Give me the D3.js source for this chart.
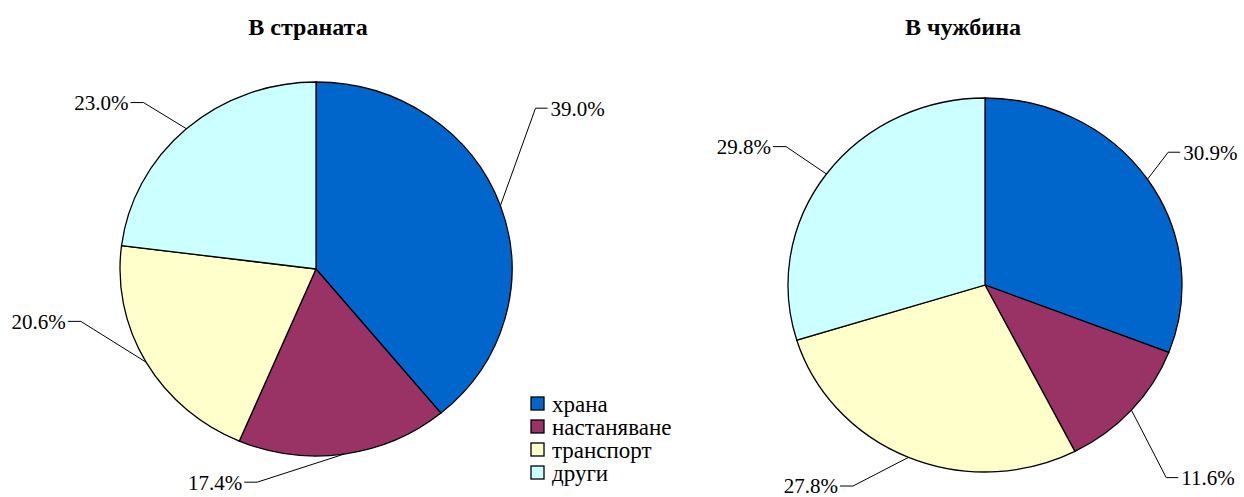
<!DOCTYPE html>
<html><head><meta charset="utf-8">
<script src="https://cdn.jsdelivr.net/npm/d3@7"></script>
<style>body{margin:0;background:#fff}svg{display:block}</style>
</head><body><div id="chart"></div>
<script>
const categories = ["храна", "настаняване", "транспорт", "други"];
const colors = ["#0066CC", "#993366", "#FFFFCC", "#CCFFFF"];
const titles = ["В страната", "В чужбина"];
const valuesDomestic = [39.0, 17.4, 20.6, 23.0];
const valuesAbroad = [30.9, 11.6, 27.8, 29.8];
// label elbow positions, in units of the pie radius, relative to the pie centre
const labelElbowDomestic = [[1.12, -0.86], [-0.30, 1.14], [-1.20, 0.28], [-0.88, -0.89]];
const labelElbowAbroad = [[0.93, -0.71], [0.92, 1.03], [-0.67, 1.075], [-1.01, -0.74]];

const FONT = "'Liberation Serif', 'Times New Roman', 'DejaVu Serif', serif";
const W = 1244, H = 497;
const svg = d3.select("#chart").append("svg").attr("width", W).attr("height", H)
  .style("font-family", FONT);

const pies = [
  {title: titles[0], values: valuesDomestic, elbows: labelElbowDomestic, cx: 316, cy: 269, rx: 196, ry: 187, tx: 308},
  {title: titles[1], values: valuesAbroad, elbows: labelElbowAbroad, cx: 985, cy: 285, rx: 197, ry: 187, tx: 963}
];

const pieGen = d3.pie().sort(null).value(d => d);
const arcGen = d3.arc().innerRadius(0);

pies.forEach(p => {
  svg.append("text").attr("x", p.tx).attr("y", 35).attr("text-anchor", "middle")
    .attr("font-family", FONT).attr("font-size", 24).attr("font-weight", "bold").text(p.title);
  const arcs = pieGen(p.values);
  const g = svg.append("g").attr("transform", `translate(${p.cx},${p.cy}) scale(${p.rx / p.ry},1)`);
  g.selectAll("path").data(arcs).enter().append("path")
    .attr("d", d => arcGen.outerRadius(p.ry)(d))
    .attr("fill", (d, i) => colors[i])
    .attr("stroke", "#000").attr("stroke-width", 1.3)
    .attr("vector-effect", "non-scaling-stroke");
  arcs.forEach((d, i) => {
    const a = (d.startAngle + d.endAngle) / 2;
    const ex = p.cx + p.rx * Math.sin(a), ey = p.cy - p.ry * Math.cos(a);
    const bx = p.cx + p.rx * p.elbows[i][0], by = p.cy + p.ry * p.elbows[i][1];
    const right = bx > ex;
    const sx = right ? bx + 12 : bx - 13;
    svg.append("polyline").attr("points", `${ex},${ey} ${bx},${by} ${sx},${by}`)
      .attr("fill", "none").attr("stroke", "#000").attr("stroke-width", 1);
    svg.append("text").attr("x", right ? sx + 3 : sx - 2).attr("y", by)
      .attr("dy", "0.35em").attr("text-anchor", right ? "start" : "end")
      .attr("font-family", FONT).attr("font-size", 21).text(d3.format(".1f")(p.values[i]) + "%");
  });
});

const legend = svg.append("g").attr("transform", "translate(531,397)");
categories.forEach((c, i) => {
  const row = legend.append("g").attr("transform", `translate(0,${i * 23})`);
  row.append("rect").attr("width", 13).attr("height", 13).attr("fill", colors[i])
    .attr("stroke", "#000").attr("stroke-width", 1.3);
  row.append("text").attr("x", 21).attr("y", 7).attr("dy", "0.35em")
    .attr("font-family", FONT).attr("font-size", 23).text(c);
});
</script></body></html>
